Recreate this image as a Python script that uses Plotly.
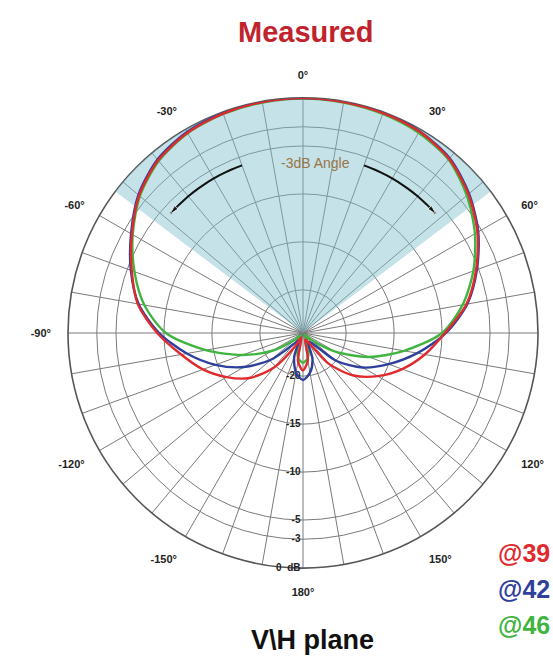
import plotly.graph_objects as go

# Polar pattern, dB relative to peak, one value every 10 degrees
theta_deg = list(range(-180, 181, 10))

red_db = [-20.6, -21.5, -24.0, -23.0, -19.8, -17.2, -15.3, -13.4, -11.6, -9.3,
          -7.0, -5.5, -3.9, -2.2, -1.0, -0.4, -0.15, -0.05, 0.0,
          -0.05, -0.1, -0.25, -0.8, -2.0, -3.5, -5.3, -7.2, -9.7,
          -11.6, -13.5, -15.5, -17.6, -20.3, -23.4, -23.8, -21.6, -20.6]

blue_db = [-19.6, -20.3, -21.8, -23.6, -23.0, -20.2, -17.4, -14.8, -12.2, -9.5,
           -7.1, -5.4, -3.8, -2.1, -0.9, -0.3, -0.1, 0.0, 0.0,
           0.0, -0.05, -0.2, -0.7, -1.9, -3.4, -5.2, -7.1, -9.6,
           -12.4, -15.0, -17.3, -20.0, -23.2, -23.4, -21.6, -20.3, -19.6]

green_db = [-21.4, -21.8, -22.8, -23.8, -24.2, -23.5, -20.8, -17.8, -14.2, -10.2,
            -7.7, -5.8, -4.0, -2.3, -1.1, -0.45, -0.2, -0.1, -0.05,
            -0.1, -0.2, -0.4, -0.9, -2.2, -3.8, -5.6, -7.6, -10.0,
            -13.8, -17.2, -20.6, -23.4, -24.2, -23.8, -22.8, -21.8, -21.4]

series_labels = ["@39", "@42", "@46"]
series_colors = ["#e02a2e", "#2f3f9c", "#3fb43f"]

# -3 dB beam region and its arrows
half_angle_deg = 53
arrow_r_db = -5.9
arrow_start_deg = 20
arrow_end_deg = 48

# Axis ticks
radial_ticks = [-20, -15, -10, -5, -3, 0]
radial_text = ["-20", "-15", "-10", "-5", "-3", "0  dB"]
angle_ticks = list(range(0, 360, 10))
angle_text = {0: "0°", 30: "30°", 60: "60°", 120: "120°", 150: "150°",
              180: "180°", 210: "-150°", 240: "-120°", 270: "-90°",
              300: "-60°", 330: "-30°"}

R_MIN = -24.5

fig = go.Figure()

# shaded -3 dB sector
sector_theta = [0] + list(range(-half_angle_deg, half_angle_deg + 1)) + [0]
sector_r = [R_MIN] + [0] * (2 * half_angle_deg + 1) + [R_MIN]
fig.add_trace(go.Scatterpolar(
    r=sector_r, theta=sector_theta, mode="lines", fill="toself",
    fillcolor="rgba(125,190,205,0.45)", line=dict(width=0),
    hoverinfo="skip", showlegend=False))

# curved arrows on both sides of the beam
for sign in (-1, 1):
    th = [sign * a for a in range(arrow_start_deg, arrow_end_deg + 1, 2)]
    n = len(th)
    fig.add_trace(go.Scatterpolar(
        r=[arrow_r_db] * n, theta=th, mode="lines+markers",
        line=dict(color="#111111", width=2),
        marker=dict(symbol="arrow", size=[0] * (n - 1) + [9],
                    angleref="previous", color="#111111"),
        hoverinfo="skip", showlegend=False))

for vals, name, col in zip([green_db, blue_db, red_db],
                           series_labels[::-1], series_colors[::-1]):
    fig.add_trace(go.Scatterpolar(
        r=vals, theta=theta_deg, mode="lines", name=name,
        line=dict(color=col, width=2.4, shape="spline", smoothing=0.8),
        showlegend=False))

W, H = 553, 660
cx0, cx1 = 68, 538
cy0, cy1 = 98, 568

fig.update_layout(
    width=W, height=H,
    margin=dict(l=0, r=0, t=0, b=0),
    paper_bgcolor="white",
    font=dict(family="Liberation Sans, Arial, sans-serif", color="#222"),
    polar=dict(
        domain=dict(x=[cx0 / W, cx1 / W], y=[1 - cy1 / H, 1 - cy0 / H]),
        bgcolor="white",
        angularaxis=dict(
            rotation=90, direction="clockwise",
            tickmode="array", tickvals=angle_ticks,
            ticktext=[angle_text.get(t, "") for t in angle_ticks],
            tickfont=dict(size=11, color="#222", weight="bold"),
            ticks="outside", ticklen=14, tickcolor="rgba(0,0,0,0)",
            showline=True, linecolor="#555", linewidth=1.6,
            gridcolor="#7a7a7a", gridwidth=1, layer="below traces"),
        radialaxis=dict(
            range=[R_MIN, 0], tickmode="array", tickvals=radial_ticks,
            ticktext=radial_text, angle=-90, tickangle=-90,
            tickfont=dict(size=10, color="#222", weight="bold"),
            showline=False, ticks="", gridcolor="#7a7a7a", gridwidth=1,
            layer="below traces"),
    ),
)

annotations = [
    dict(text="Measured", x=305 / W, y=1 - 32 / H, xref="paper", yref="paper",
         yanchor="middle", showarrow=False,
         font=dict(size=29, color="#c0232b", weight="bold")),
    dict(text="V\\H plane", x=312 / W, y=1 - 640 / H, xref="paper", yref="paper",
         yanchor="middle", showarrow=False,
         font=dict(size=27, color="#111", weight="bold")),
    dict(text="-3dB Angle", x=315 / W, y=1 - 163 / H, xref="paper", yref="paper",
         yanchor="middle", showarrow=False,
         font=dict(size=14, color="#9a7446")),
]
for i, (name, col) in enumerate(zip(series_labels, series_colors)):
    annotations.append(dict(
        text=name, x=496 / W, y=1 - (553 + 36 * i) / H, xref="paper",
        yref="paper", xanchor="left", yanchor="middle", showarrow=False,
        font=dict(size=25, color=col, weight="bold")))
fig.update_layout(annotations=annotations)

fig.write_html("out.html")
